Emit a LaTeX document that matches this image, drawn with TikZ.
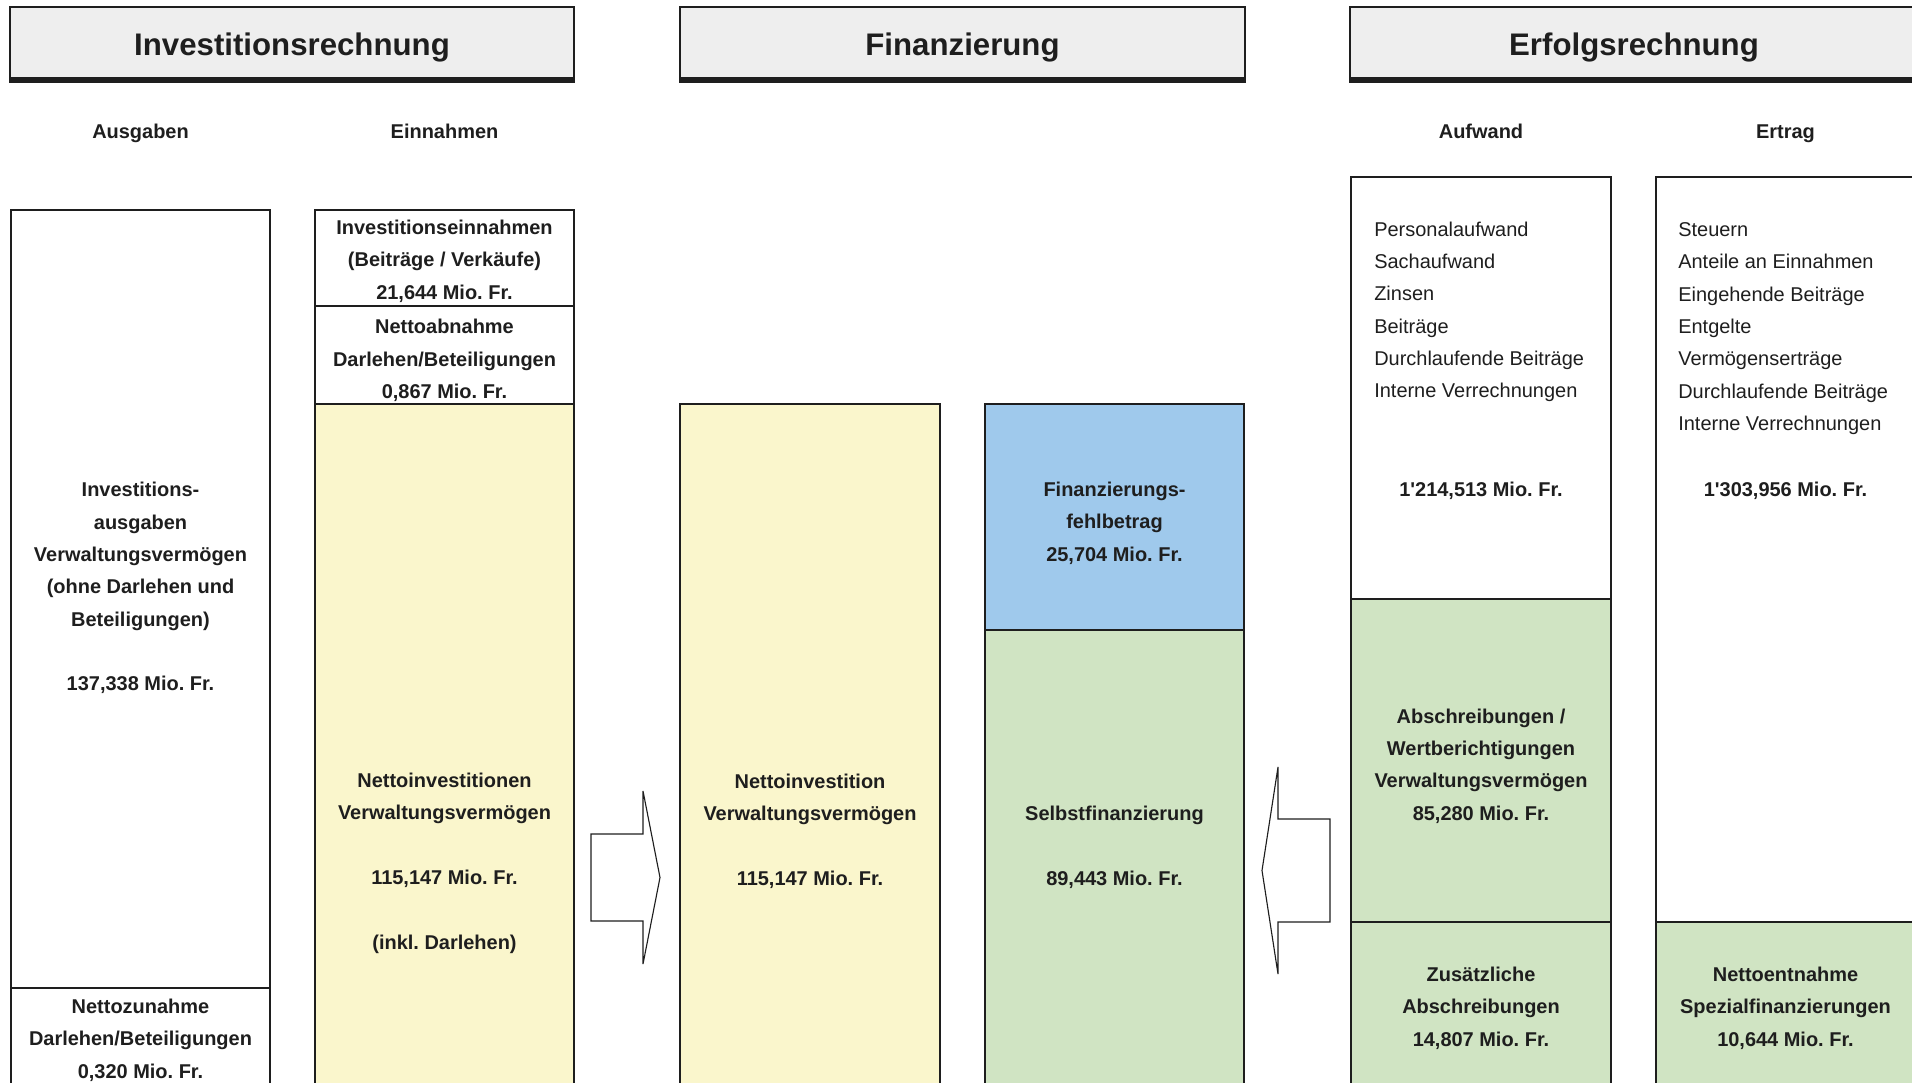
\documentclass[tikz,border=0pt]{standalone}
\usepackage{fontspec}
\setmainfont{Liberation Sans}
\newfontfamily\arialfont{Liberation Sans}
\usetikzlibrary{positioning}

\definecolor{ink}{HTML}{1E1E1E}
\definecolor{hdrfill}{HTML}{EEEEEE}
\definecolor{yelfill}{HTML}{FAF6CC}
\definecolor{grnfill}{HTML}{D0E4C3}
\definecolor{blufill}{HTML}{9FC9EC}

\begin{document}
\frenchspacing
\begin{tikzpicture}[
    x=0.25mm, y=-0.25mm,
    every node/.style={font=\arialfont\fontsize{14.2}{23}\selectfont\bfseries,
        text=ink, align=center, inner sep=0pt},
    hdr/.style={draw=ink, line width=2pt, fill=hdrfill},
    hdrbar/.style={draw=ink, line width=4.6pt},
    title/.style={font=\arialfont\fontsize{22.2}{26}\selectfont\bfseries, anchor=base},
    colhead/.style={anchor=base},
    cell/.style={draw=ink, line width=2.1pt},
    plain/.style={font=\arialfont\fontsize{14.2}{23}\selectfont, align=left},
    blockarrow/.style={draw=ink, line width=0.8pt, fill=white, line join=miter},
]
\useasboundingbox (0,0) rectangle (1912,1083);
\clip (0,0) rectangle (1912,1083);

% ===== HEADERS =====
\draw[hdr] (10,7) rectangle (574,80);
\draw[hdrbar] (9,80) -- (575,80);
\node[title] (H-inv) at (292,56) {Investitionsrechnung};

\draw[hdr] (680,7) rectangle (1245,80);
\draw[hdrbar] (679,80) -- (1246,80);
\node[title] (H-fin) at (962.5,56) {Finanzierung};

\draw[hdr] (1350,7) rectangle (1918,80);
\draw[hdrbar] (1349,80) -- (1919,80);
\node[title] (H-erf) at (1634,56) {Erfolgsrechnung};

% column heads
\node[colhead] (S-aus) at (140.5,139) {Ausgaben};
\node[colhead] (S-ein) at (444.5,139) {Einnahmen};
\node[colhead] (S-auf) at (1481,139) {Aufwand};
\node[colhead] (S-ert) at (1785.5,139) {Ertrag};

% ===== INVESTITIONSRECHNUNG =====
\draw[cell] (11,210) rectangle (270,1100);
\draw[cell] (11,988) -- (270,988);
\node (A-aus) at (140.5,588)
    {Investitions-\\ausgaben\\Verwaltungsvermögen\\(ohne Darlehen und\\Beteiligungen)\\[23pt]137,338 Mio. Fr.};
\node (A-darl) at (140.5,1040)
    {Nettozunahme\\Darlehen/Beteiligungen\\0,320 Mio. Fr.};

\draw[cell] (315,210) rectangle (574,404);
\draw[cell] (315,306) -- (574,306);
\draw[cell, fill=yelfill] (315,404) rectangle (574,1100);
\node (B-inv) at (444.5,261)
    {Investitionseinnahmen\\(Beiträge / Verkäufe)\\21,644 Mio. Fr.};
\node (B-darl) at (444.5,360.5)
    {Nettoabnahme\\Darlehen/Beteiligungen\\0,867 Mio. Fr.};
\node (B-netto) at (444.5,863)
    {Nettoinvestitionen\\Verwaltungsvermögen\\[23pt]115,147 Mio. Fr.\\[23pt](inkl. Darlehen)};

% ===== FINANZIERUNG =====
\draw[cell, fill=yelfill] (680,404) rectangle (940,1100);
\node (C-netto) at (810,831)
    {Nettoinvestition\\Verwaltungsvermögen\\[23pt]115,147 Mio. Fr.};

\draw[cell, fill=blufill] (985,404) rectangle (1244,630);
\draw[cell, fill=grnfill] (985,630) rectangle (1244,1100);
\node (D-fehl) at (1114.5,523)
    {Finanzierungs-\\fehlbetrag\\25,704 Mio. Fr.};
\node (D-selbst) at (1114.5,847)
    {Selbstfinanzierung\\[23pt]89,443 Mio. Fr.};

% ===== ERFOLGSRECHNUNG =====
\draw[cell] (1351,177) rectangle (1611,599);
\draw[cell, fill=grnfill] (1351,599) rectangle (1611,922);
\draw[cell, fill=grnfill] (1351,922) rectangle (1611,1100);
\node[plain, anchor=west] (E-list) at (1374,312)
    {Personalaufwand\\Sachaufwand\\Zinsen\\Beiträge\\Durchlaufende Beiträge\\Interne Verrechnungen};
\node (E-sum) at (1481,491) {1'214,513 Mio. Fr.};
\node (E-abs) at (1481,766)
    {Abschreibungen /\\Wertberichtigungen\\Verwaltungsvermögen\\85,280 Mio. Fr.};
\node (E-zus) at (1481,1008)
    {Zusätzliche\\Abschreibungen\\14,807 Mio. Fr.};

\draw[cell] (1656,177) rectangle (1915,922);
\draw[cell, fill=grnfill] (1656,922) rectangle (1915,1100);
\node[plain, anchor=west] (F-list) at (1678,328.5)
    {Steuern\\Anteile an Einnahmen\\Eingehende Beiträge\\Entgelte\\Vermögenserträge\\Durchlaufende Beiträge\\Interne Verrechnungen};
\node (F-sum) at (1785.5,491) {1'303,956 Mio. Fr.};
\node (F-spez) at (1785.5,1008)
    {Nettoentnahme\\Spezialfinanzierungen\\10,644 Mio. Fr.};

% ===== BLOCK ARROWS =====
\draw[blockarrow] (591,834) -- (643,834) -- (643,791) -- (660,877.5)
    -- (643,964) -- (643,921) -- (591,921) -- cycle;
\draw[blockarrow] (1330,819) -- (1278,819) -- (1278,767) -- (1262,870.5)
    -- (1278,974) -- (1278,922) -- (1330,922) -- cycle;

\end{tikzpicture}
\end{document}
